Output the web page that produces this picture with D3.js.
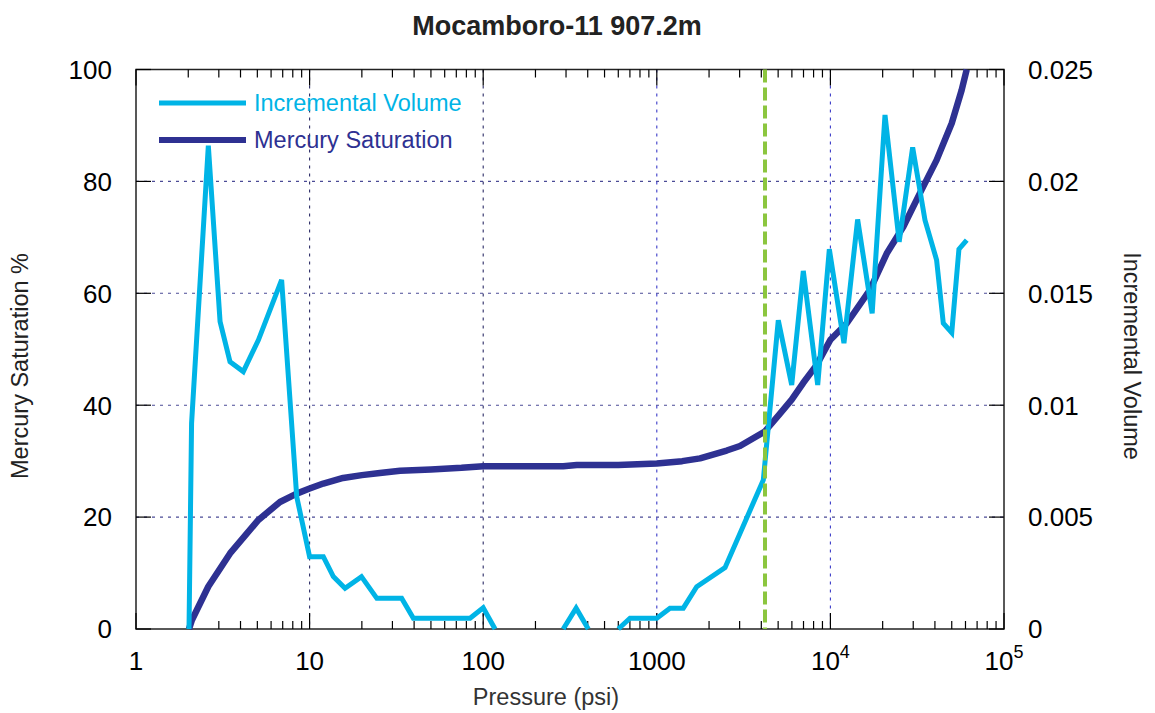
<!DOCTYPE html>
<html><head><meta charset="utf-8">
<script src="https://cdn.jsdelivr.net/npm/d3@7"></script>
<style>body{margin:0;background:#fff}svg{display:block;font-family:"Liberation Sans",Arial,sans-serif}</style>
</head><body><svg id="c" width="1155" height="713"></svg>
<script>
// ---- data ----
const satPressure = [2.02,2.1,2.61,3.48,5.07,6.75,8.43,10,12,15.6,20,25.4,33.2,50,75,100,200,289,346,600,1000,1400,1774,2527,3013,4190,5125,5985,6980,8340,10000,12400,16900,21100,26300,32800,40900,50000,57000,61000];
const satValue    = [0,1.6,7.6,13.5,19.5,22.7,24.2,25.1,26.0,27.0,27.5,27.9,28.3,28.5,28.8,29.1,29.1,29.1,29.3,29.3,29.6,30.0,30.5,31.9,32.7,35.3,38.5,41.0,44.0,47.2,51.7,54.6,60.6,67.1,71.9,77.9,83.8,90.4,96.3,100];
const volPressure = [2.02,2.09,2.61,3.05,3.48,4.15,5.07,6.9,8.43,10,12,13.7,16,19.9,24.4,33.9,39.6,84,100,117,200,289,343,403,500,600,701,1000,1191,1421,1698,2472,4108,5010,5985,6980,8450,9860,11970,14350,17400,20630,24900,29770,35070,40900,44700,50000,55000,61000];
const volValue    = [0,0.0092,0.0216,0.01373,0.01194,0.0115,0.01291,0.0156,0.00591,0.00323,0.00323,0.00234,0.00182,0.00234,0.00137,0.00137,0.00048,0.00048,0.00095,0,null,0,0.00093,0,null,0,0.00048,0.00048,0.00093,0.00093,0.00189,0.00274,0.00666,0.0138,0.0109,0.0160,0.0109,0.01697,0.01277,0.0183,0.0141,0.02297,0.0173,0.02152,0.01827,0.01649,0.01366,0.01324,0.01697,0.01738];
const thresholdPressure = 4200;
const xTickValues = [1,10,100,1000,10000,100000];
const xTickLabels = ["1","10","100","1000","10|4","10|5"];
const yLeftTicks = [0,20,40,60,80,100];
const yRightTicks = [0,0.005,0.01,0.015,0.02,0.025];
const yRightLabels = ["0","0.005","0.01","0.015","0.02","0.025"];
const title = "Mocamboro-11 907.2m";
const seriesNames = ["Incremental Volume","Mercury Saturation"];

// ---- layout ----
const L=136, R=1004, T=69.5, B=629;
const cCyan="#00b4e6", cNavy="#2e3192", cGreen="#8cc63f";
const svg=d3.select("#c");
const x=d3.scaleLog().domain([1,1e5]).range([L,R]);
const yL=d3.scaleLinear().domain([0,100]).range([B,T]);
const yR=d3.scaleLinear().domain([0,0.025]).range([B,T]);

// grid
const g=svg.append("g");
g.selectAll(".hg").data(yLeftTicks.filter(v=>v>0&&v<100)).join("line")
 .attr("x1",L).attr("x2",R).attr("y1",d=>yL(d)).attr("y2",d=>yL(d))
 .attr("stroke","#4b4b96").attr("stroke-width",1.1).attr("stroke-dasharray","3,5");
g.selectAll(".vg").data(xTickValues.filter(v=>v>1&&v<1e5)).join("line")
 .attr("x1",d=>x(d)).attr("x2",d=>x(d)).attr("y1",T).attr("y2",B)
 .attr("stroke",d=>d<1000?"#2b2b66":"#3a3ac8").attr("stroke-width",1.1).attr("stroke-dasharray","3,5");

// frame
svg.append("rect").attr("x",L).attr("y",T).attr("width",R-L).attr("height",B-T)
 .attr("fill","none").attr("stroke","#222").attr("stroke-width",1.5);

// minor ticks
const minors=[];
for(let e=0;e<5;e++) for(let k=2;k<=9;k++) minors.push(k*Math.pow(10,e));
const tk=svg.append("g").attr("stroke","#000").attr("stroke-width",1.2);
tk.selectAll(".mb").data(minors).join("line").attr("x1",d=>x(d)).attr("x2",d=>x(d)).attr("y1",B).attr("y2",B-8);
tk.selectAll(".mt").data(minors).join("line").attr("x1",d=>x(d)).attr("x2",d=>x(d)).attr("y1",T).attr("y2",T+8);
tk.selectAll(".Mb").data(xTickValues).join("line").attr("x1",d=>x(d)).attr("x2",d=>x(d)).attr("y1",B).attr("y2",B-16);
tk.selectAll(".Mt").data(xTickValues).join("line").attr("x1",d=>x(d)).attr("x2",d=>x(d)).attr("y1",T).attr("y2",T+16);
tk.selectAll(".yl").data(yLeftTicks).join("line").attr("x1",L).attr("x2",L+15).attr("y1",d=>yL(d)).attr("y2",d=>yL(d));
tk.selectAll(".yr").data(yRightTicks).join("line").attr("x1",R).attr("x2",R-15).attr("y1",d=>yR(d)).attr("y2",d=>yR(d));

// tick labels
svg.selectAll(".tl").data(yLeftTicks).join("text").attr("x",112).attr("y",d=>yL(d)).attr("dy","0.36em")
 .attr("text-anchor","end").attr("font-size",26).text(d=>d);
svg.selectAll(".tr").data(yRightTicks).join("text").attr("x",1028).attr("y",d=>yR(d)).attr("dy","0.36em")
 .attr("text-anchor","start").attr("font-size",26).text((d,i)=>yRightLabels[i]);
const xl=svg.selectAll(".tx").data(xTickValues).join("text").attr("x",d=>x(d)).attr("y",670)
 .attr("text-anchor","middle").attr("font-size",26);
xl.each(function(d,i){
  const parts=xTickLabels[i].split("|");
  const t=d3.select(this);
  t.append("tspan").text(parts[0]);
  if(parts[1]) t.append("tspan").attr("font-size",18).attr("dy",-12).text(parts[1]);
});

// lines
svg.append("clipPath").attr("id","pc").append("rect").attr("x",L).attr("y",T-3).attr("width",R-L).attr("height",B-T+6);
const satData=satPressure.map((p,i)=>({p,v:satValue[i]}));
const volData=volPressure.map((p,i)=>({p,v:volValue[i]}));
const plot=svg.append("g").attr("clip-path","url(#pc)");
plot.append("path").datum(satData).attr("fill","none").attr("stroke",cNavy).attr("stroke-width",6.5)
 .attr("stroke-linejoin","round").attr("d",d3.line().x(d=>x(d.p)).y(d=>yL(d.v)));
plot.append("path").datum(volData).attr("fill","none").attr("stroke",cCyan).attr("stroke-width",5)
 .attr("stroke-linejoin","miter").attr("d",d3.line().defined(d=>d.v!==null).x(d=>x(d.p)).y(d=>yR(d.v)));
plot.append("line").attr("x1",x(thresholdPressure)).attr("x2",x(thresholdPressure)).attr("y1",T).attr("y2",B)
 .attr("stroke",cGreen).attr("stroke-width",4).attr("stroke-dasharray","13,5");

// legend
const leg=[{n:seriesNames[0],c:cCyan,y:103,w:5},{n:seriesNames[1],c:cNavy,y:140,w:6}];
leg.forEach(l=>{
  svg.append("line").attr("x1",159).attr("x2",246).attr("y1",l.y).attr("y2",l.y).attr("stroke",l.c).attr("stroke-width",l.w);
  svg.append("text").attr("x",254).attr("y",l.y).attr("dy","0.36em").attr("font-size",23.5).attr("fill",l.c).text(l.n);
});

// titles
svg.append("text").attr("x",557).attr("y",35).attr("text-anchor","middle").attr("font-size",27).attr("font-weight","bold").attr("fill","#222").text(title);
svg.append("text").attr("x",546).attr("y",705).attr("text-anchor","middle").attr("font-size",23.5).attr("fill","#333").text("Pressure (psi)");
svg.append("text").attr("transform","translate(28,366) rotate(-90)").attr("text-anchor","middle").attr("font-size",23.5).attr("fill","#222").text("Mercury Saturation %");
svg.append("text").attr("transform","translate(1124,356) rotate(90)").attr("text-anchor","middle").attr("font-size",23.5).attr("fill","#222").text("Incremental Volume");
</script></body></html>
